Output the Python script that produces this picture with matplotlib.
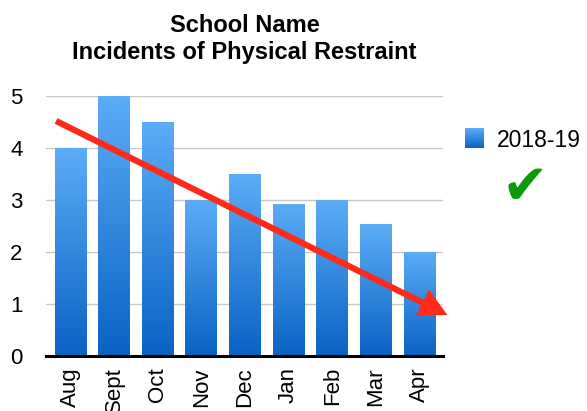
import numpy as np
import matplotlib
matplotlib.use("Agg")
import matplotlib.pyplot as plt
from matplotlib.patches import FancyArrowPatch
from matplotlib.colors import LinearSegmentedColormap

months = ["Aug", "Sept", "Oct", "Nov", "Dec", "Jan", "Feb", "Mar", "Apr"]
values = [4, 5, 4.5, 3, 3.5, 2.93, 3, 2.53, 2]
series_name = "2018-19"
title = "School Name\nIncidents of Physical Restraint"
yticks = [0, 1, 2, 3, 4, 5]
# hand-drawn trend arrow annotation (data coords)
arrow_start = (-0.33, 4.52)
arrow_end = (8.64, 0.79)

plt.rcParams['font.family'] = ['Liberation Sans', 'DejaVu Sans']

fig = plt.figure(figsize=(5.87, 4.11), dpi=100)
ax = fig.add_axes([46/587, 1-356/411, (443-46)/587, (356-96)/411])

top_c = "#5cacf7"
bot_c = "#0a62c4"
cmap = LinearSegmentedColormap.from_list("bl", [bot_c, top_c])
grad = np.linspace(0, 1, 256).reshape(-1, 1)

x = np.arange(len(months))
bars = ax.bar(x, values, width=0.73, color=top_c, zorder=2)
for b in bars:
    x0, y0 = b.get_x(), b.get_y()
    w, h = b.get_width(), b.get_height()
    im = ax.imshow(grad, cmap=cmap, origin="lower", aspect="auto",
                   extent=[x0, x0 + w, y0, y0 + h], zorder=3)
    im.set_clip_path(b)

ax.set_xlim(-0.56, 8.54)
ax.set_ylim(0, 5)
ax.set_yticks(yticks)
ax.set_xticks(x)
ax.set_xticklabels(months, rotation=90, fontsize=16)
ax.tick_params(axis='y', length=0, pad=17, labelsize=16)
ax.tick_params(axis='x', length=0, pad=8)
ax.yaxis.grid(True, color="#c8c8c8", lw=1)
ax.set_axisbelow(True)
for s in ["left", "right", "top"]:
    ax.spines[s].set_visible(False)
ax.spines["bottom"].set_linewidth(2.2)
ax.spines["bottom"].set_color("black")
ax.spines["bottom"].set_zorder(5)

ax.set_title(title, fontsize=17, fontweight="bold", pad=27, linespacing=1.2)

arr = FancyArrowPatch(arrow_start, arrow_end,
                      arrowstyle="simple,head_length=2.0,head_width=2.1,tail_width=0.45",
                      mutation_scale=10, color="#ff2a1a", lw=0, zorder=6,
                      clip_on=False, shrinkA=0, shrinkB=0)
ax.add_patch(arr)

# legend
lax = fig.add_axes([465/587, 1-148/411, 19/587, 20/411])
lax.imshow(grad, cmap=cmap, origin="lower", aspect="auto")
lax.axis("off")
fig.text(497/587, 1-140/411, series_name, fontsize=16.5, va="center", ha="left")
fig.text(525/587, 1-189/411, "\u2714", fontsize=40, color="#0a9a0a",
         ha="center", va="center", family=["DejaVu Sans"])

fig.savefig("out.png", dpi=100)
